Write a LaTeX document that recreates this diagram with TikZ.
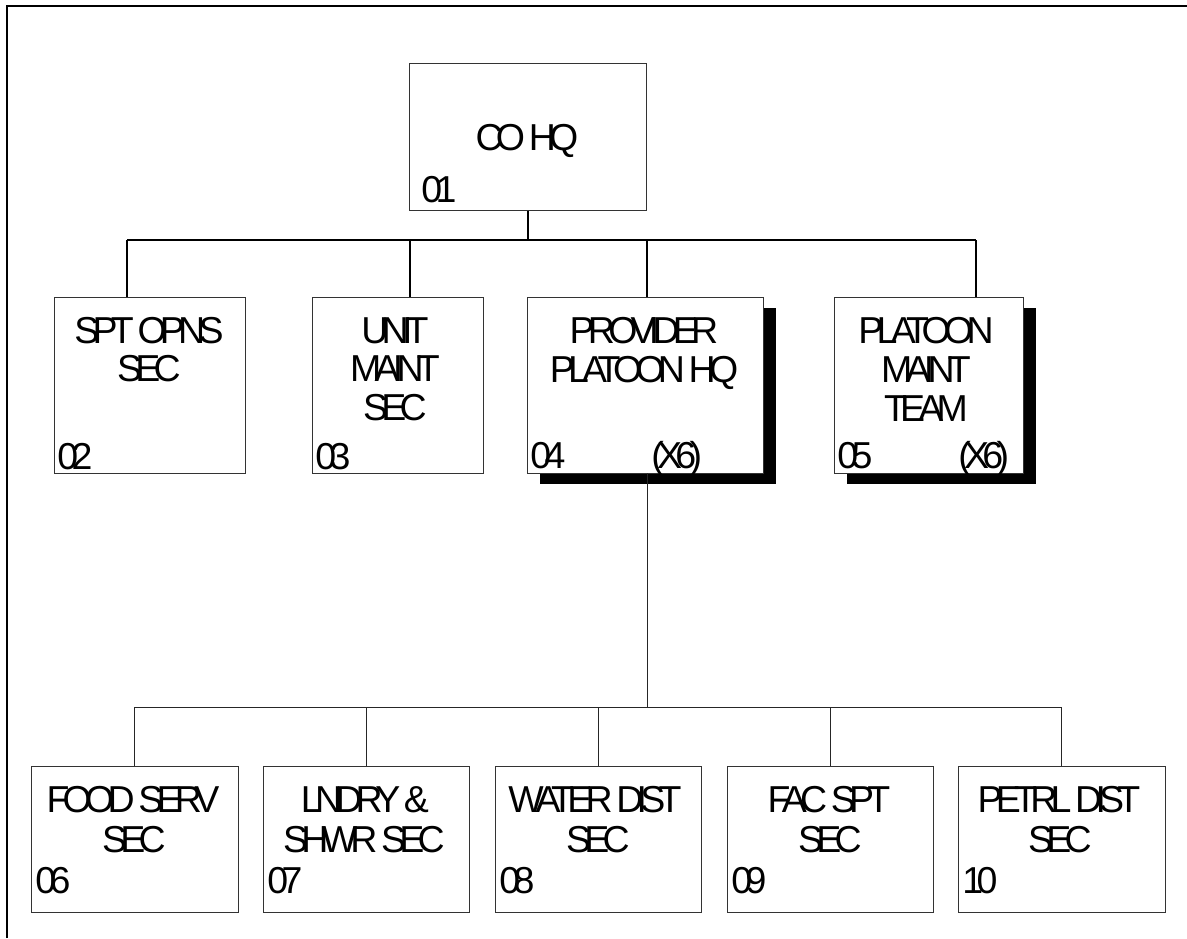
\documentclass[tikz,border=0pt]{standalone}
\usepackage{fontspec}
\setmainfont[LetterSpace=-18]{Liberation Sans}
\usetikzlibrary{fit,shadows}
\begin{document}
\begin{tikzpicture}[x=0.5pt,y=-0.5pt,
  box/.style={draw=black!80, line width=0.5pt, fill=white, inner sep=0pt},
  shbox/.style={box, drop shadow={shadow xshift=6.25pt, shadow yshift=-5.25pt, fill=black, opacity=1}},
  lbl/.style={anchor=base, inner sep=0pt, font=\fontsize{18.75}{19.5}\selectfont},
  num/.style={lbl, anchor=base west},
  main/.style={line width=1pt, black},
  sub/.style={line width=0.5pt, black!85}]
\useasboundingbox (0,0) rectangle (1187,938);
% frame
\draw[line width=1.3pt] (7,938) -- (7,6) -- (1187,6);
% top
\node[box, fit={(409,63) (646,210)}] (co) {};
\node[lbl] (coT) at (527,150) {CO HQ};
\node[num] (coN) at (421,202) {01};
% level 2
\node[box, fit={(54,297) (245,473)}] (spt) {};
\node[box, fit={(312,297) (483,473)}] (unit) {};
\node[shbox, fit={(527,297) (763,473)}] (pv) {};
\node[shbox, fit={(834,297) (1023,473)}] (pmt) {};
\node[lbl] (sptA) at (149,343) {SPT OPNS};
\node[lbl] (sptB) at (149,381) {SEC};
\node[num] (sptN) at (57,469) {02};
\node[lbl] (unitA) at (395,343) {UNIT};
\node[lbl] (unitB) at (395,381) {MAINT};
\node[lbl] (unitC) at (395,420) {SEC};
\node[num] (unitN) at (315,469) {03};
\node[lbl] (pvA) at (644,343) {PROVIDER};
\node[lbl] (pvB) at (644,382) {PLATOON HQ};
\node[num] (pvN) at (530,468) {04};
\node[num] (pvX) at (651,468) {(X6)};
\node[lbl] (pmtA) at (926,343) {PLATOON};
\node[lbl] (pmtB) at (926,382) {MAINT};
\node[lbl] (pmtC) at (926,421) {TEAM};
\node[num] (pmtN) at (837,468) {05};
\node[num] (pmtX) at (958,468) {(X6)};
% level 3
\node[box, fit={(31,766) (238,912)}] (food) {};
\node[box, fit={(263,766) (469,912)}] (lnd) {};
\node[box, fit={(495,766) (701,912)}] (wat) {};
\node[box, fit={(727,766) (933,912)}] (fac) {};
\node[box, fit={(958,766) (1165,912)}] (pet) {};
\node[lbl] (foodA) at (133,812) {FOOD SERV};
\node[lbl] (foodB) at (134,852) {SEC};
\node[num] (foodN) at (35,893) {06};
\node[lbl] (lndA) at (365,812) {LNDRY \&};
\node[lbl] (lndB) at (364,852) {SHWR SEC};
\node[num] (lndN) at (267,893) {07};
\node[lbl] (watA) at (595,812) {WATER DIST};
\node[lbl] (watB) at (598,852) {SEC};
\node[num] (watN) at (499,893) {08};
\node[lbl] (facA) at (829,812) {FAC SPT};
\node[lbl] (facB) at (830,852) {SEC};
\node[num] (facN) at (731,893) {09};
\node[lbl] (petA) at (1059,812) {PETRL DIST};
\node[lbl] (petB) at (1060,852) {SEC};
\node[num] (petN) at (962,893) {10};
% connectors level 1
\coordinate (bus) at (0,240);
\coordinate (b1) at (127,240);
\coordinate (b2) at (410,240);
\coordinate (b3) at (647,240);
\coordinate (b4) at (976,240);
\draw[main] (co.south) -- (co.south |- bus);
\draw[main] (b1) -- (b4);
\draw[main] (b1) -- (b1 |- spt.north);
\draw[main] (b2) -- (b2 |- unit.north);
\draw[main] (b3) -- (b3 |- pv.north);
\draw[main] (b4) -- (b4 |- pmt.north);
% connectors level 2
\coordinate (p0) at (647,473);
\coordinate (c0) at (647,707);
\draw[sub] (p0) -- (c0);
\draw[sub] (food.north |- c0) -- (pet.north |- c0);
\foreach \n in {food,lnd,wat,fac,pet}
  \draw[sub] (\n.north |- c0) -- (\n.north);
\end{tikzpicture}
\end{document}
